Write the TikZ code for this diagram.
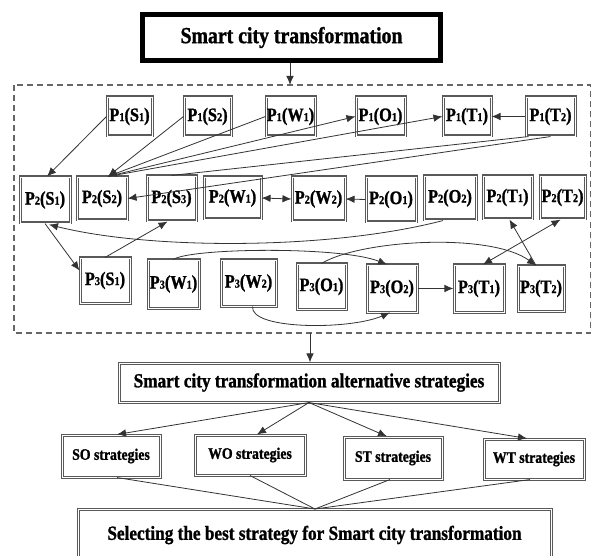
\documentclass[tikz,border=0pt]{standalone}
\usepackage{fontspec}
\setmainfont[FakeStretch=0.86, BoldFeatures={FakeBold=1.2}]{Liberation Serif}
\usetikzlibrary{arrows.meta,calc}
% small digit used as an index inside the P labels
\newcommand\dg[1]{{\fontsize{12pt}{12pt}\selectfont #1}}
\newcommand\pfont{\fontsize{19pt}{19pt}\selectfont\bfseries}

\begin{document}
\begin{tikzpicture}[x=1pt,y=-1pt,
  pbox/.style={draw=black!65, double=white, double distance=0.8pt, line width=1.1pt,
               fill=white, inner sep=0pt, font=\pfont},
  sbox/.style={pbox, font=\fontsize{16pt}{16pt}\selectfont\bfseries},
  wbox/.style={pbox, font=\fontsize{20pt}{20pt}\selectfont\bfseries},
  topbox/.style={draw=black, line width=4.5pt, fill=white, inner sep=0pt,
                 font=\fontsize{23pt}{23pt}\selectfont\bfseries},
  conn/.style={draw=black!80, line width=0.8pt},
  tip/.style={conn, -{Latex[length=9pt,width=7.5pt]}},
  both/.style={conn, {Latex[length=9pt,width=7.5pt]}-{Latex[length=9pt,width=7.5pt]}},
  frame/.style={draw=black!60, line width=1.1pt, dash pattern=on 6pt off 4pt}]

\clip (0,0) rectangle (592,556);
\fill[white] (0,0) rectangle (592,556);

% title
\node[topbox, minimum width=298pt, minimum height=46pt] (top) at (291.5,37.5) {Smart city transformation};

% dashed frame around the three phases
\draw[frame] (14,85) rectangle (590.5,333);
\coordinate (ftop) at (290,85);
\coordinate (fbot) at (310,333);

% phase 1
\node[pbox, minimum width=45pt, minimum height=39pt] (p1s1) at (129.5,116.5) {P\dg1(S\dg1)};
\node[pbox, minimum width=47pt, minimum height=39pt] (p1s2) at (207.5,116.5) {P\dg1(S\dg2)};
\node[pbox, minimum width=49pt, minimum height=39pt] (p1w1) at (290.5,116.5) {P\dg1(W\dg1)};
\node[pbox, minimum width=49pt, minimum height=39pt] (p1o1) at (380.5,116.5) {P\dg1(O\dg1)};
\node[pbox, minimum width=48pt, minimum height=39pt] (p1t1) at (467,116.5) {P\dg1(T\dg1)};
\node[pbox, minimum width=49pt, minimum height=39pt] (p1t2) at (550.5,116.5) {P\dg1(T\dg2)};

% phase 2
\node[pbox, minimum width=50pt, minimum height=46pt] (p2s1) at (45,200) {P\dg2(S\dg1)};
\node[pbox, minimum width=50pt, minimum height=43pt] (p2s2) at (102,198.5) {P\dg2(S\dg2)};
\node[pbox, minimum width=49pt, minimum height=45pt] (p2s3) at (171.5,198.5) {P\dg2(S\dg3)};
\node[pbox, minimum width=57pt, minimum height=42pt] (p2w1) at (232.5,198) {P\dg2(W\dg1)};
\node[pbox, minimum width=53pt, minimum height=44pt] (p2w2) at (318.5,199) {P\dg2(W\dg2)};
\node[pbox, minimum width=50pt, minimum height=45pt] (p2o1) at (391,199.5) {P\dg2(O\dg1)};
\node[pbox, minimum width=52pt, minimum height=44pt] (p2o2) at (450,198) {P\dg2(O\dg2)};
\node[pbox, minimum width=49pt, minimum height=43pt] (p2t1) at (507.5,197.5) {P\dg2(T\dg1)};
\node[pbox, minimum width=45pt, minimum height=43pt] (p2t2) at (562.5,197.5) {P\dg2(T\dg2)};

% phase 3
\node[pbox, minimum width=50pt, minimum height=45pt] (p3s1) at (105,280.5) {P\dg3(S\dg1)};
\node[pbox, minimum width=51pt, minimum height=48pt] (p3w1) at (173.5,284) {P\dg3(W\dg1)};
\node[pbox, minimum width=55pt, minimum height=46pt] (p3w2) at (248.5,283) {P\dg3(W\dg2)};
\node[pbox, minimum width=49pt, minimum height=45pt] (p3o1) at (321.5,286.5) {P\dg3(O\dg1)};
\node[pbox, minimum width=50pt, minimum height=47pt] (p3o2) at (392,288.5) {P\dg3(O\dg2)};
\node[pbox, minimum width=50pt, minimum height=47pt] (p3t1) at (479,288.5) {P\dg3(T\dg1)};
\node[pbox, minimum width=46pt, minimum height=45pt] (p3t2) at (541,288.5) {P\dg3(T\dg2)};

% strategies
\node[wbox, minimum width=380pt, minimum height=39pt] (alt) at (309,382.5)
  {Smart city transformation alternative strategies};
\node[sbox, minimum width=98pt, minimum height=42pt] (so) at (111,456) {SO strategies};
\node[sbox, minimum width=110pt, minimum height=40pt] (wo) at (250,455) {WO strategies};
\node[sbox, minimum width=98pt, minimum height=42pt] (st) at (393,458) {ST strategies};
\node[sbox, minimum width=100pt, minimum height=40pt] (wt) at (534,459) {WT strategies};
\node[wbox, minimum width=473pt, minimum height=52pt] (best) at (314.5,535)
  {Selecting the best strategy for Smart city transformation};

% flow between the main blocks
\draw[tip] (top.south -| ftop) -- (ftop);
\draw[tip] (fbot) -- (alt.north -| fbot);

% phase 1 -> phase 2 links
\coordinate (s2top) at ($(p2s2.north)+(6,0)$);
\draw[tip] (p1s1.west) -- ($(p2s1.north)+(2,0)$);
\draw[tip] (p1s2.west) -- (s2top);
\draw[tip] (p1w1.west) -- (s2top);
\draw[tip] (s2top) -- (p1o1.west);
\draw[tip] (s2top) -- (p1t1.west);
\draw[tip] (p1t2.west) -- (p1t1.east);
\draw[tip] (p1t2.south) -- (p2s2.east);
\draw[conn] (p2s3.north) -- ($(p1t2.south)+(-22,0)$);

% phase 2 links
\draw[both] (p2w1.east) -- (p2w2.west);
\draw[tip] (p2o1.west) -- (p2w2.east);
\draw[tip] ($(p2o2.south)+(-7,0)$) .. controls (330,250) and (150,250) .. ($(p2s1.south)+(4,1)$);

% phase 2 <-> phase 3 links
\draw[tip] (p2s1.south) -- ($(p3s1.west)+(0,-10)$);
\draw[tip] (p3s1.north) -- ($(p2s3.south)+(-4,0)$);
\draw[tip] (p3w1.north) .. controls (190,248) and (340,246) .. ($(p3o2.north)+(-5,0)$);
\draw[tip] (p3o1.north) .. controls (360,240) and (490,232) .. ($(p3t2.north)+(-5,0)$);
\draw[tip] ($(p3t2.north)+(-5,0)$) -- ($(p2t1.south)+(2,0)$);
\draw[both] ($(p2t2.south)+(-2,0)$) -- ($(p3t1.north)+(4,0)$);
\draw[tip] (p3o2.east) -- (p3t1.west);
\draw[tip] ($(p3w2.south)+(4,0)$) .. controls (250,330) and (350,330) .. ($(p3o2.south)+(-2,0)$);

% fan out to the four strategy groups
\coordinate (fan) at (alt.south);
\draw[tip] (fan) -- ($(so.north)+(6,0)$);
\draw[tip] (fan) -- ($(wo.north)+(7,0)$);
\draw[tip] (fan) -- ($(st.north)+(-6,0)$);
\draw[tip] (fan) -- ($(wt.north)+(-7,0)$);

% merge into the final choice
\coordinate (merge) at (315,509);
\draw[conn] ($(so.south)+(6,0)$) -- (merge);
\draw[conn] (wo.south) -- (merge);
\draw[conn] ($(st.south)+(-3,0)$) -- (merge);
\draw[conn] ($(wt.south)+(-4,0)$) -- (merge);
\end{tikzpicture}
\end{document}
